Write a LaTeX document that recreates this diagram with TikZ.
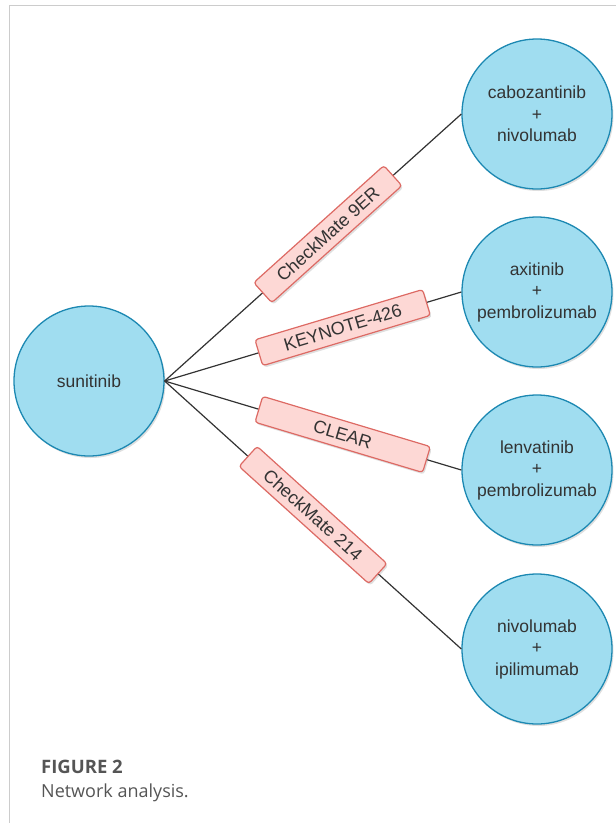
\documentclass[tikz,border=0pt]{standalone}
\usepackage{fontspec}
\setmainfont{Liberation Sans}
\newfontfamily\captionfont{Open Sans}
\usetikzlibrary{shadows}

\definecolor{drugfill}{HTML}{A0DDF0}
\definecolor{drugline}{HTML}{1C88B2}
\definecolor{trialfill}{HTML}{FDD8D5}
\definecolor{trialline}{HTML}{DD6A64}
\definecolor{textgray}{HTML}{333333}
\definecolor{framegray}{HTML}{CCCCCC}
\definecolor{capgray}{HTML}{555555}

\tikzset{
  drug/.style={circle, draw=drugline, line width=1.3pt, fill=drugfill,
    minimum size=150pt, inner sep=0pt, align=center, text=textgray,
    font=\fontsize{17.5}{21.5}\selectfont,
    drop shadow={shadow xshift=1.5pt, shadow yshift=-2pt, opacity=0.25}},
  trial/.style={rectangle, rounded corners=3pt, draw=trialline, line width=1.2pt,
    fill=trialfill, minimum width=175pt, minimum height=27pt, inner sep=0pt,
    text=textgray, font=\fontsize{18}{21}\selectfont, sloped,
    drop shadow={shadow xshift=1.5pt, shadow yshift=-2pt, opacity=0.25}},
  link/.style={draw=textgray, line width=1.2pt}
}

\begin{document}
\begin{tikzpicture}[x=1pt, y=-1pt]
		\useasboundingbox (0,0) rectangle (616,823);
		
		% card border
		\draw [framegray, line width=1.5pt] (9.5,823) -- (9.5,5.5) -- (616,5.5);
		
		\node [drug] (sun) at (89, 381) {sunitinib};
		
		\node [drug] (cabo) at (537, 114) {cabozantinib\\+\\nivolumab};
		\node [drug] (axi) at (537, 292) {axitinib\\+\\pembrolizumab};
		\node [drug] (lenva) at (537, 470) {lenvatinib\\+\\pembrolizumab};
		\node [drug] (nivo) at (537, 649) {nivolumab\\+\\ipilimumab};
		
		\draw [link] (sun.east) -- node [trial, pos=0.55] (cm9er) {CheckMate 9ER} (cabo.west);
		\draw [link] (sun.east) -- node [trial, pos=0.6] (kn426) {KEYNOTE-426} (axi.west);
		\draw [link] (sun.east) -- node [trial, pos=0.6] (clear) {CLEAR} (lenva.west);
		\draw [link] (sun.east) -- node [trial, pos=0.5] (cm214) {CheckMate 214} (nivo.west);
		
		% caption
		\node [anchor=base west, inner sep=0pt, text=capgray, font=\captionfont\bfseries\fontsize{18.5}{21}\selectfont] (figno) at (41, 773) {FIGURE 2};
		\node [anchor=base west, inner sep=0pt, text=capgray, font=\captionfont\fontsize{18}{21}\selectfont] (figcap) at (41, 797) {Network analysis.};
		
		\end{tikzpicture}
\end{document}
